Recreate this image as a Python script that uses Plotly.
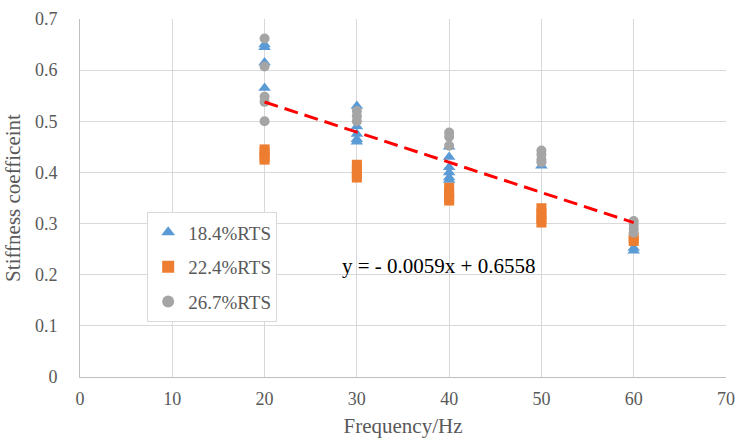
import plotly.graph_objects as go

# Data
freq_a = [20, 20, 20, 20, 30, 30, 30, 30, 30, 40, 40, 40, 40, 40, 40, 50, 60, 60]
stiff_a = [0.650, 0.645, 0.615, 0.565, 0.530, 0.490, 0.475, 0.465, 0.460,
           0.450, 0.430, 0.410, 0.400, 0.390, 0.385, 0.413, 0.252, 0.247]

freq_b = [20, 20, 20, 20, 30, 30, 30, 30, 40, 40, 40, 40, 50, 50, 50, 50, 60, 60]
stiff_b = [0.445, 0.440, 0.430, 0.425, 0.415, 0.405, 0.395, 0.390,
           0.370, 0.360, 0.350, 0.345, 0.330, 0.320, 0.310, 0.302, 0.272, 0.266]

freq_c = [20, 20, 20, 20, 20, 30, 30, 30, 40, 40, 40, 50, 50, 50, 50, 60, 60, 60, 60]
stiff_c = [0.662, 0.607, 0.548, 0.538, 0.500, 0.520, 0.510, 0.500,
           0.478, 0.470, 0.452, 0.443, 0.435, 0.425, 0.420, 0.305, 0.298, 0.290, 0.282]

names = ["18.4%RTS", "22.4%RTS", "26.7%RTS"]
fit_slope = -0.0059
fit_intercept = 0.6558
fit_x = [20, 60]
fit_y = [fit_slope * x + fit_intercept for x in fit_x]

x_ticks = [0, 10, 20, 30, 40, 50, 60, 70]
y_ticks = [0, 0.1, 0.2, 0.3, 0.4, 0.5, 0.6, 0.7]
y_tick_text = ["0", "0.1", "0.2", "0.3", "0.4", "0.5", "0.6", "0.7"]

FONT = "Liberation Serif"
TXT = "#595959"

fig = go.Figure()
fig.add_trace(go.Scatter(x=freq_a, y=stiff_a, mode="markers", name=names[0], legendgroup="a",
                         marker=dict(symbol="triangle-up", size=11, color="#5B9BD5")))
fig.add_trace(go.Scatter(x=freq_b, y=stiff_b, mode="markers", name=names[1], legendgroup="b",
                         marker=dict(symbol="square", size=10, color="#ED7D31")))
fig.add_trace(go.Scatter(x=freq_c, y=stiff_c, mode="markers", name=names[2], legendgroup="c",
                         marker=dict(symbol="circle", size=10, color="#A5A5A5")))
fig.add_trace(go.Scatter(x=fit_x, y=fit_y, mode="lines", showlegend=False,
                         line=dict(color="#FF0000", width=3, dash="14px,7px")))

fig.add_annotation(x=38.9, y=0.218, text="y = - 0.0059x + 0.6558", showarrow=False,
                   font=dict(family=FONT, size=21, color="#000000"))

fig.update_layout(
    width=744, height=443,
    margin=dict(l=80, r=9, t=18, b=66),
    paper_bgcolor="white", plot_bgcolor="white",
    font=dict(family=FONT, size=18, color=TXT),
    legend=dict(x=0.104, y=0.46, xanchor="left", yanchor="top",
                bgcolor="white", bordercolor="#D9D9D9", borderwidth=1,
                font=dict(family=FONT, size=19, color=TXT),
                itemwidth=30, itemsizing="constant", tracegroupgap=7),
    xaxis=dict(range=[0, 70], tickvals=x_ticks, showgrid=True, gridcolor="#D9D9D9",
               gridwidth=1, zeroline=False, showline=True, linecolor="#BFBFBF",
               ticks="outside", ticklen=5, tickcolor="rgba(0,0,0,0)",
               title=dict(text="Frequency/Hz", font=dict(family=FONT, size=21, color=TXT), standoff=10),
               tickfont=dict(family=FONT, size=18, color=TXT)),
    yaxis=dict(range=[0, 0.7], tickvals=y_ticks, ticktext=y_tick_text,
               showgrid=True, gridcolor="#D9D9D9", gridwidth=1,
               zeroline=False, showline=True, linecolor="#BFBFBF",
               ticks="outside", ticklen=18, tickcolor="rgba(0,0,0,0)",
               title=dict(text="Stiffness coefficeint", font=dict(family=FONT, size=21, color=TXT), standoff=8),
               tickfont=dict(family=FONT, size=18, color=TXT)),
)

fig.write_html("out.html")
